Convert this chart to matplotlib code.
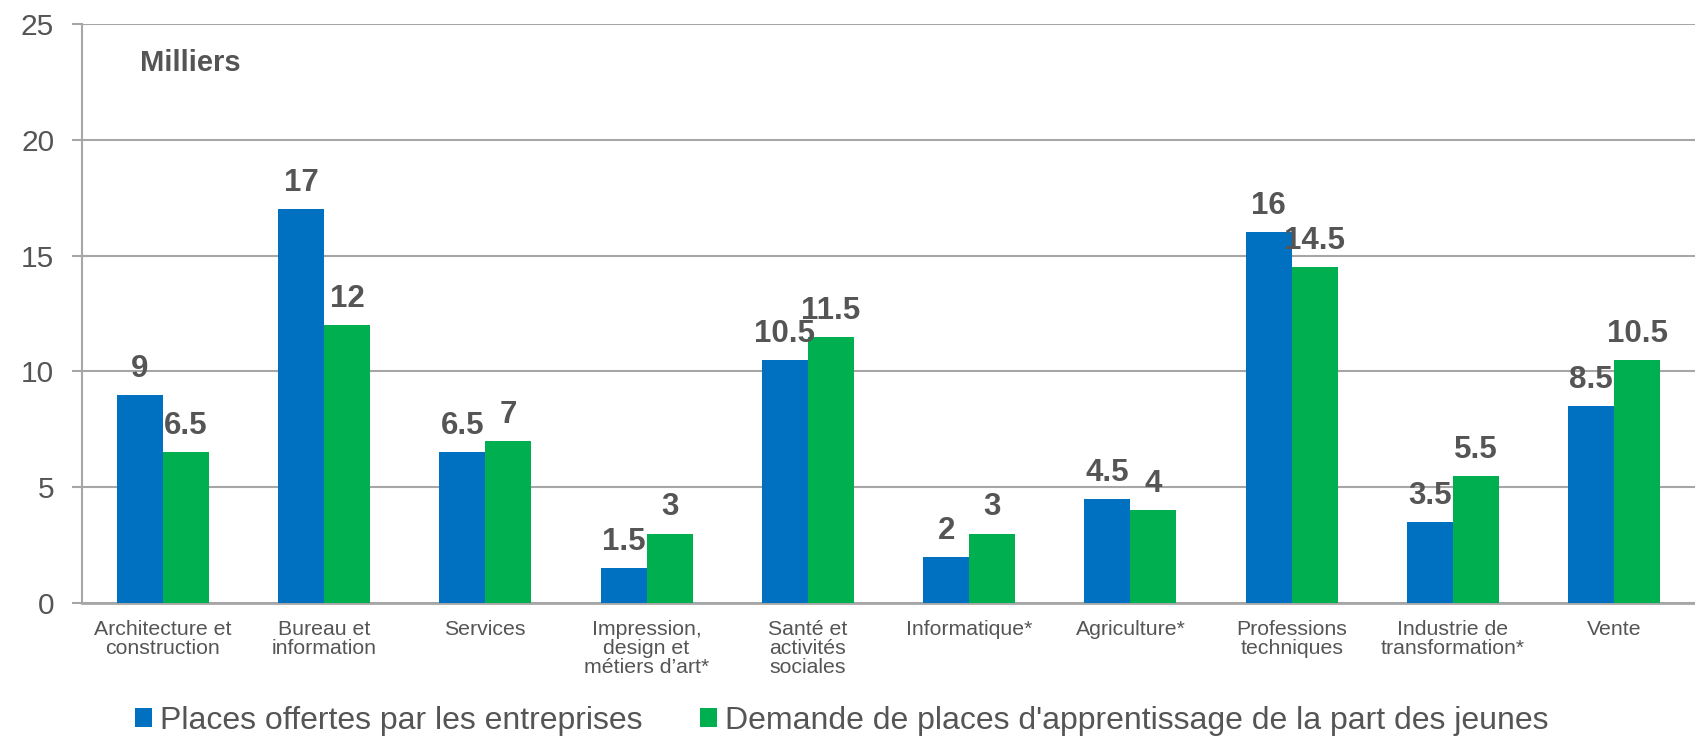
import matplotlib
matplotlib.use("Agg")
import matplotlib.pyplot as plt
import numpy as np
from matplotlib.patches import Patch
from matplotlib import font_manager

categories = ["Architecture et\nconstruction", "Bureau et\ninformation", "Services",
              "Impression,\ndesign et\nmétiers d’art*", "Santé et\nactivités\nsociales",
              "Informatique*", "Agriculture*", "Professions\ntechniques",
              "Industrie de\ntransformation*", "Vente"]
places_offertes = [9, 17, 6.5, 1.5, 10.5, 2, 4.5, 16, 3.5, 8.5]
demande = [6.5, 12, 7, 3, 11.5, 3, 4, 14.5, 5.5, 10.5]
series_names = ["Places offertes par les entreprises",
                "Demande de places d'apprentissage de la part des jeunes"]
yticks = [0, 5, 10, 15, 20, 25]

BLUE = "#0070C0"
GREEN = "#00B050"
TEXT = "#555555"
GRID = "#A6A6A6"

names = {f.name for f in font_manager.fontManager.ttflist}
base_font = "Liberation Sans" if "Liberation Sans" in names else "DejaVu Sans"
plt.rcParams['font.family'] = [base_font, 'DejaVu Sans']

fig = plt.figure(figsize=(16.95, 7.38), dpi=100)
ax = fig.add_axes([82/1695, (738-603)/738, 1 - 82/1695, (603-24)/738])

x = np.arange(len(categories))
w = 0.285
b1 = ax.bar(x - w/2, places_offertes, w, color=BLUE, zorder=3)
b2 = ax.bar(x + w/2, demande, w, color=GREEN, zorder=3)

for bars, vals in ((b1, places_offertes), (b2, demande)):
    for r, v in zip(bars, vals):
        ax.annotate(f"{v:g}", (r.get_x() + r.get_width()/2, v),
                    xytext=(0, 13), textcoords="offset points",
                    ha="center", va="baseline", fontsize=22.5, fontweight="bold",
                    color=TEXT, zorder=4)

ax.set_xlim(-0.5, len(categories) - 0.5)
ax.set_ylim(0, 25)
ax.set_yticks(yticks)
ax.yaxis.grid(True, color=GRID, linewidth=1.5, zorder=0)
ax.set_axisbelow(True)
ax.tick_params(axis="y", labelsize=21.5, labelcolor=TEXT, color=GRID, length=7,
               width=1.5, pad=13)
ax.tick_params(axis="x", length=0, pad=12)
ax.set_xticks(x)
ax.set_xticklabels(categories, fontsize=15.3, color=TEXT, linespacing=1.02, va="top")
for s in ["top", "right"]:
    ax.spines[s].set_visible(False)
ax.spines["left"].set_color(GRID)
ax.spines["left"].set_linewidth(1.5)
ax.spines["bottom"].set_color(GRID)
ax.spines["bottom"].set_linewidth(2)

fig.text(140/1695, 1 - 63/738, "Milliers", fontsize=21, fontweight="bold",
         color=TEXT, ha="left", va="center")

handles = [Patch(facecolor=BLUE), Patch(facecolor=GREEN)]
fig.legend(handles, series_names, loc="center", bbox_to_anchor=(842/1695, 1 - 721/738),
           ncol=2, frameon=False, fontsize=23, labelcolor=TEXT,
           handlelength=0.53, handleheight=0.53, handletextpad=0.25,
           columnspacing=1.8, borderaxespad=0, borderpad=0)

fig.savefig("out.png", dpi=100)
